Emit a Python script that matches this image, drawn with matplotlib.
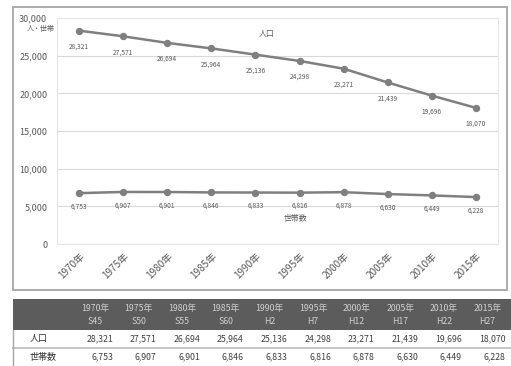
import matplotlib
matplotlib.use("Agg")
import matplotlib.pyplot as plt
from matplotlib.patches import Rectangle

plt.rcParams['font.family'] = ['Noto Sans CJK JP', 'DejaVu Sans']

years = ["1970年", "1975年", "1980年", "1985年", "1990年",
         "1995年", "2000年", "2005年", "2010年", "2015年"]
eras = ["S45", "S50", "S55", "S60", "H2", "H7", "H12", "H17", "H22", "H27"]
population = [28321, 27571, 26694, 25964, 25136, 24298, 23271, 21439, 19696, 18070]
households = [6753, 6907, 6901, 6846, 6833, 6816, 6878, 6630, 6449, 6228]
row_labels = ["人口", "世帯数"]

TEXT = "#595959"
LINE = "#7f7f7f"
GRID = "#d9d9d9"

W, H = 511, 366
fig = plt.figure(figsize=(W / 100, H / 100), dpi=100)

# chart frame
fig.patches.append(Rectangle((13 / W, 1 - 290 / H), 494 / W, 283 / H,
                             transform=fig.transFigure, fill=False,
                             edgecolor="#a6a6a6", linewidth=1.3))

ax = fig.add_axes([57 / W, 1 - 244 / H, 441 / W, 226 / H])
x = list(range(len(years)))
ax.plot(x, population, color=LINE, linewidth=1.8, marker="o", markersize=4.3, zorder=3)
ax.plot(x, households, color=LINE, linewidth=1.8, marker="o", markersize=4.3, zorder=3)

for xi, v in zip(x, population):
    ax.annotate(f"{v:,}", (xi, v), xytext=(0, -11.5), textcoords="offset points",
                ha="center", va="center", fontsize=4.8, color=TEXT)
for xi, v in zip(x, households):
    ax.annotate(f"{v:,}", (xi, v), xytext=(0, -9.5), textcoords="offset points",
                ha="center", va="center", fontsize=4.8, color=TEXT)

ax.set_xlim(-0.5, len(years) - 0.5)
ax.set_ylim(0, 30000)
ax.set_yticks(range(0, 30001, 5000))
ax.set_yticklabels([f"{v:,}" for v in range(0, 30001, 5000)])
ax.set_xticks(x)
ax.set_xticklabels(years, rotation=45, ha="right", va="top", rotation_mode="anchor")
ax.tick_params(axis="both", length=0, colors=TEXT, labelsize=6.5)
ax.tick_params(axis="x", labelsize=7.2, pad=5)
ax.tick_params(axis="y", pad=7)
ax.grid(axis="y", color=GRID, linewidth=0.8)
ax.set_axisbelow(True)
for s in ax.spines.values():
    s.set_color("#e6e6e6")
    s.set_linewidth(0.8)

ax.text(-0.005, 28540, "人・世帯", transform=ax.get_yaxis_transform(),
        ha="right", va="center", fontsize=5, color=TEXT)
ax.text(4.26, 28000, "人口", ha="center", va="center", fontsize=5.7, color=TEXT)
ax.text(4.9, 3320, "世帯数", ha="center", va="center", fontsize=5.7, color=TEXT)

# data table below the chart
tx = fig.add_axes([0, 0, 1, 1 - 299 / H])
tx.set_xlim(0, W)
tx.set_ylim(H, 299)
tx.axis("off")
tx.add_patch(Rectangle((13, 299), 498, 31, facecolor="#5c5c5c", edgecolor="none"))
tx.plot([13, 511], [347.5, 347.5], color="#c0c0c0", linewidth=1.3)
tx.plot([13, 13], [330, 366], color="#a6a6a6", linewidth=1.0)

col_w = 43.6
for i, (yr, era) in enumerate(zip(years, eras)):
    cx = 95 + i * col_w
    tx.text(cx, 309, yr, ha="center", va="center", fontsize=6.3, color="#d0d0d0")
    tx.text(cx, 321, era, ha="center", va="center", fontsize=6.3, color="#d0d0d0")
    tx.text(cx + 18, 339, f"{population[i]:,}", ha="right", va="center",
            fontsize=6.3, color="#404040")
    tx.text(cx + 18, 357, f"{households[i]:,}", ha="right", va="center",
            fontsize=6.3, color="#404040")

tx.text(30, 339, row_labels[0], ha="left", va="center", fontsize=6.5, color="#303030")
tx.text(30, 357, row_labels[1], ha="left", va="center", fontsize=6.5, color="#303030")

fig.savefig("out.png", dpi=100)
